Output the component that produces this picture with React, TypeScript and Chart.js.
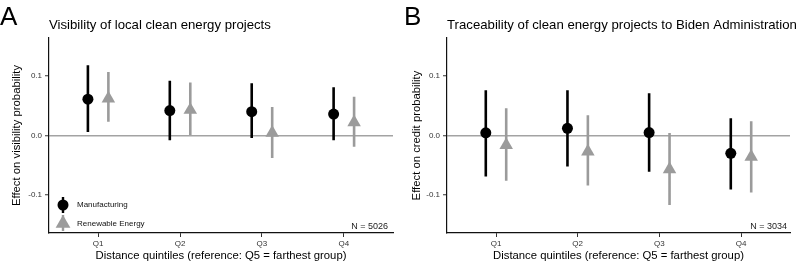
import React, { useEffect, useRef } from "react";
import { Chart, registerables } from "chart.js";

Chart.register(...registerables);

const FONT = "'Liberation Sans', Arial, Helvetica, sans-serif";
Chart.defaults.font.family = FONT;

// ---------- data ----------
const quintiles = ["Q1", "Q2", "Q3", "Q4"];
const yTickValues = [-0.1, 0, 0.1];
const seriesNames = ["Manufacturing", "Renewable Energy"];

// Panel A: Visibility
const aMfgEst = [0.061, 0.042, 0.04, 0.036];
const aMfgLo = [0.006, -0.008, -0.004, -0.008];
const aMfgHi = [0.118, 0.092, 0.088, 0.081];
const aRenEst = [0.062, 0.043, 0.0045, 0.022];
const aRenLo = [0.023, 0.001, -0.038, -0.019];
const aRenHi = [0.107, 0.089, 0.048, 0.065];

// Panel B: Traceability
const bMfgEst = [0.0045, 0.012, 0.005, -0.03];
const bMfgLo = [-0.069, -0.052, -0.061, -0.091];
const bMfgHi = [0.076, 0.076, 0.071, 0.029];
const bRenEst = [-0.016, -0.027, -0.057, -0.036];
const bRenLo = [-0.076, -0.084, -0.117, -0.096];
const bRenHi = [0.046, 0.034, 0.004, 0.024];

const DODGE = 0.125;
const MFG_COLOR = "#000000";
const REN_COLOR = "#9b9b9b";

type PanelCfg = {
  letter: string;
  title: string;
  yTitle: string;
  nText: string;
  mfgEst: number[];
  mfgLo: number[];
  mfgHi: number[];
  renEst: number[];
  renLo: number[];
  renHi: number[];
  yAxisWidth: number;
  padRight: number;
  yTitlePad: number;
  nRight: number;
  showLegend: boolean;
  letterX: number;
};

function barData(lo: number[], hi: number[], shift: number) {
  const out: { x: number; y: number | null }[] = [];
  lo.forEach((l, i) => {
    const x = i + 1 + shift;
    out.push({ x, y: l });
    out.push({ x, y: hi[i] });
    out.push({ x, y: null });
  });
  return out;
}

function pointData(est: number[], shift: number) {
  return est.map((v, i) => ({ x: i + 1 + shift, y: v }));
}

function makeChart(canvas: HTMLCanvasElement, cfg: PanelCfg) {
  const overlay = {
    id: "overlay",
    afterDraw(chart: any) {
      const ctx = chart.ctx as CanvasRenderingContext2D;
      const area = chart.chartArea;
      ctx.save();
      // panel letter
      ctx.fillStyle = "#000";
      ctx.textBaseline = "alphabetic";
      ctx.textAlign = "left";
      ctx.font = `26px ${FONT}`;
      ctx.fillText(cfg.letter, cfg.letterX, 25);
      // title
      ctx.font = `13.2px ${FONT}`;
      ctx.fillText(cfg.title, area.left, 29);
      // N text
      ctx.font = `9px ${FONT}`;
      ctx.fillStyle = "#222";
      ctx.textAlign = "right";
      ctx.textBaseline = "middle";
      ctx.fillText(cfg.nText, cfg.nRight, 227);
      // legend
      if (cfg.showLegend) {
        const kx = 63;
        // manufacturing key
        ctx.strokeStyle = MFG_COLOR;
        ctx.lineWidth = 2.4;
        ctx.beginPath();
        ctx.moveTo(kx, 197);
        ctx.lineTo(kx, 213);
        ctx.stroke();
        ctx.fillStyle = MFG_COLOR;
        ctx.beginPath();
        ctx.arc(kx, 205, 5.5, 0, Math.PI * 2);
        ctx.fill();
        // renewable key
        ctx.strokeStyle = REN_COLOR;
        ctx.beginPath();
        ctx.moveTo(kx, 215);
        ctx.lineTo(kx, 231);
        ctx.stroke();
        ctx.fillStyle = REN_COLOR;
        const r = 8.5;
        const cy = 223.5;
        ctx.beginPath();
        ctx.moveTo(kx, cy - r);
        ctx.lineTo(kx + (r * Math.sqrt(3)) / 2, cy + r / 2);
        ctx.lineTo(kx - (r * Math.sqrt(3)) / 2, cy + r / 2);
        ctx.closePath();
        ctx.fill();
        ctx.fillStyle = "#111";
        ctx.textAlign = "left";
        ctx.textBaseline = "middle";
        ctx.font = `8px ${FONT}`;
        ctx.fillText(seriesNames[0], 77, 205);
        ctx.fillText(seriesNames[1], 77, 223.5);
      }
      ctx.restore();
    },
  };

  return new Chart(canvas, {
    type: "scatter",
    data: {
      datasets: [
        {
          label: seriesNames[0],
          data: pointData(cfg.mfgEst, -DODGE),
          pointStyle: "circle",
          pointRadius: 5.5,
          pointBorderWidth: 0,
          backgroundColor: MFG_COLOR,
          borderColor: MFG_COLOR,
        },
        {
          label: seriesNames[1],
          data: pointData(cfg.renEst, DODGE),
          pointStyle: "triangle",
          pointRadius: 7.8,
          pointBorderWidth: 0,
          backgroundColor: REN_COLOR,
          borderColor: REN_COLOR,
        },
        {
          label: seriesNames[0] + " CI",
          data: barData(cfg.mfgLo, cfg.mfgHi, -DODGE),
          showLine: true,
          spanGaps: false,
          pointRadius: 0,
          borderColor: MFG_COLOR,
          borderWidth: 2.6,
          borderCapStyle: "butt",
        },
        {
          label: seriesNames[1] + " CI",
          data: barData(cfg.renLo, cfg.renHi, DODGE),
          showLine: true,
          spanGaps: false,
          pointRadius: 0,
          borderColor: REN_COLOR,
          borderWidth: 2.6,
          borderCapStyle: "butt",
        },
      ] as any,
    },
    options: {
      animation: false,
      responsive: false,
      devicePixelRatio: 1,
      layout: { padding: { top: 38, right: cfg.padRight, left: 0, bottom: 0 } },
      plugins: {
        legend: { display: false },
        tooltip: { enabled: false },
        title: { display: false },
      },
      scales: {
        x: {
          type: "linear",
          min: 0.4,
          max: 4.6,
          afterBuildTicks: (scale: any) => {
            scale.ticks = quintiles.map((_, i) => ({ value: i + 1 }));
          },
          afterFit: (scale: any) => {
            scale.height = 32;
          },
          ticks: {
            callback: (v: any) => quintiles[Math.round(Number(v)) - 1] ?? "",
            font: { size: 8 },
            color: "#333",
            padding: 2,
            maxRotation: 0,
            autoSkip: false,
          },
          grid: {
            drawOnChartArea: false,
            tickLength: 4,
            tickColor: "#333",
            tickWidth: 1,
          },
          border: { display: true, color: "#111", width: 1.2 },
          title: {
            display: true,
            text: "Distance quintiles (reference: Q5 = farthest group)",
            font: { size: 11.3 },
            color: "#000",
            padding: { top: 0, bottom: 2.5 },
          },
        },
        y: {
          type: "linear",
          min: -0.164,
          max: 0.164,
          afterBuildTicks: (scale: any) => {
            scale.ticks = yTickValues.map((v) => ({ value: v }));
          },
          afterFit: (scale: any) => {
            scale.width = cfg.yAxisWidth;
          },
          ticks: {
            callback: (v: any) => Number(v).toFixed(1),
            font: { size: 8 },
            color: "#333",
            padding: 3,
          },
          grid: {
            drawOnChartArea: true,
            color: (c: any) => (c.tick && c.tick.value === 0 ? "#a3a3a3" : "rgba(0,0,0,0)"),
            lineWidth: 1.5,
            tickLength: 4,
            tickColor: "#333",
            tickWidth: 1,
          },
          border: { display: true, color: "#111", width: 1.2 },
          title: {
            display: true,
            text: cfg.yTitle,
            font: { size: 11.3 },
            color: "#000",
            padding: { top: cfg.yTitlePad, bottom: 0 },
          },
        },
      },
    },
    plugins: [overlay],
  } as any);
}

const panelA: PanelCfg = {
  letter: "A",
  title: "Visibility of local clean energy projects",
  yTitle: "Effect on visibility probability",
  nText: "N = 5026",
  mfgEst: aMfgEst,
  mfgLo: aMfgLo,
  mfgHi: aMfgHi,
  renEst: aRenEst,
  renLo: aRenLo,
  renHi: aRenHi,
  yAxisWidth: 49,
  padRight: 8,
  yTitlePad: 10.2,
  nRight: 388,
  showLegend: true,
  letterX: 0,
};

const panelB: PanelCfg = {
  letter: "B",
  title: "Traceability of clean energy projects to Biden Administration",
  yTitle: "Effect on credit probability",
  nText: "N = 3034",
  mfgEst: bMfgEst,
  mfgLo: bMfgLo,
  mfgHi: bMfgHi,
  renEst: bRenEst,
  renLo: bRenLo,
  renHi: bRenHi,
  yAxisWidth: 46,
  padRight: 12,
  yTitlePad: 9.2,
  nRight: 386,
  showLegend: false,
  letterX: 3,
};

function Panel({ cfg, left }: { cfg: PanelCfg; left: number }) {
  const ref = useRef<HTMLCanvasElement | null>(null);
  useEffect(() => {
    if (!ref.current) return;
    const chart = makeChart(ref.current, cfg);
    return () => chart.destroy();
  }, [cfg]);
  return (
    <canvas
      ref={ref}
      width={401}
      height={265}
      style={{ position: "absolute", left, top: 0, width: 401, height: 265 }}
    />
  );
}

export default function App() {
  return (
    <div
      style={{
        position: "absolute",
        left: 0,
        top: 0,
        width: 802,
        height: 265,
        background: "#fff",
        overflow: "hidden",
      }}
    >
      <Panel cfg={panelA} left={0} />
      <Panel cfg={panelB} left={401} />
    </div>
  );
}
